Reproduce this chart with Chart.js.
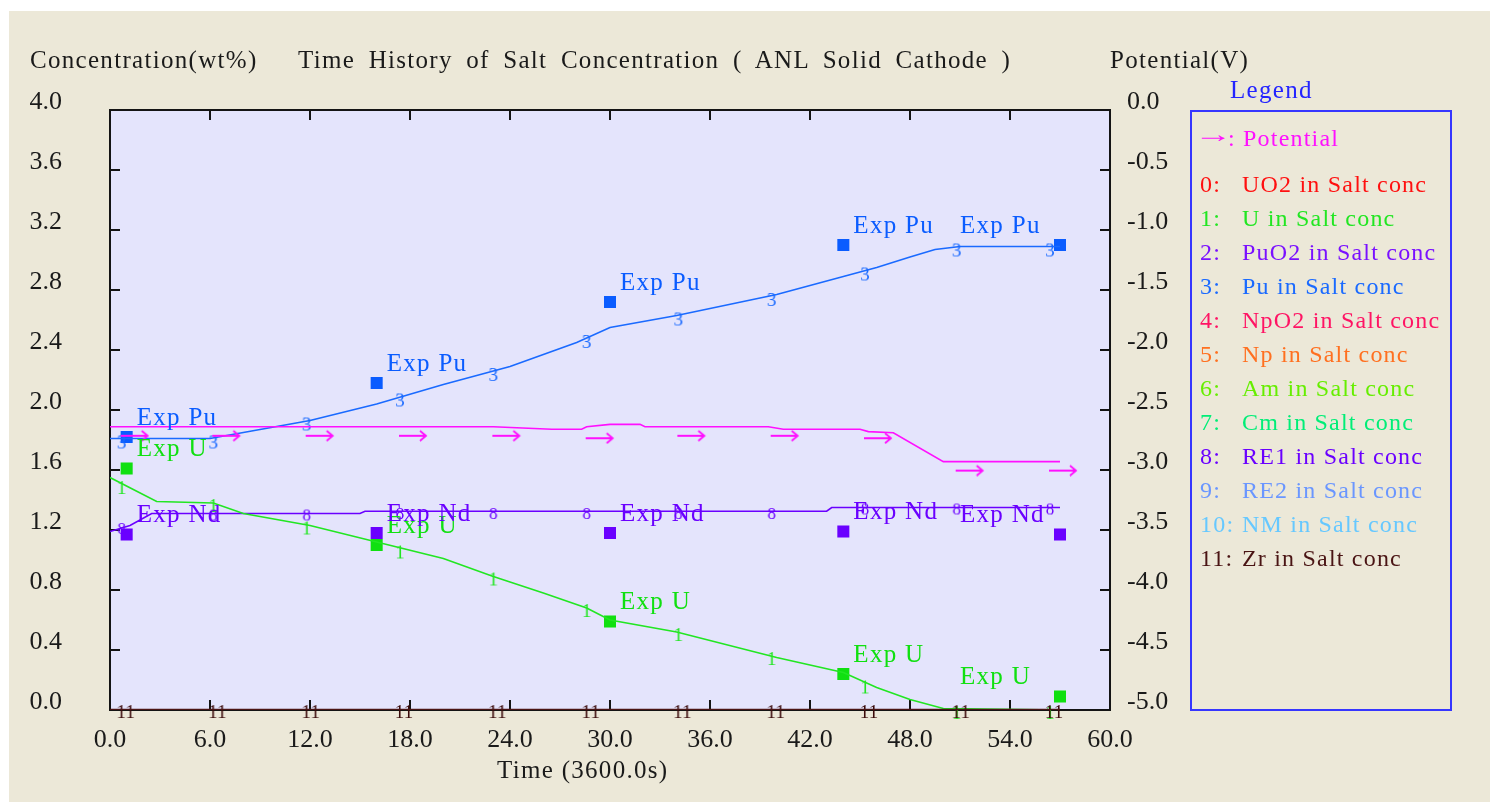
<!DOCTYPE html>
<html lang="en">
<head>
<meta charset="UTF-8">
<title>Time History of Salt Concentration</title>
<script src="https://cdn.jsdelivr.net/npm/chart.js"></script>
<style>
    body { margin: 0; background: #fff; width: 1490px; height: 802px; overflow: hidden; position: relative;
           font-family: "Liberation Serif", "Times New Roman", serif; }
    #panel { position: absolute; left: 9px; top: 11px; right: 0; bottom: 0; background: #ECE8D8; }
    #c { position: absolute; left: 0; top: 0; }
    .t { position: absolute; font-size: 25px; line-height: 28px; letter-spacing: 1.3px; color: #1a1a1a; white-space: nowrap; }
    #legend { position: absolute; left: 1190px; top: 110px; width: 258px; height: 597px; border: 2px solid #3636FF; }
    .lg { position: absolute; font-size: 24px; line-height: 28px; letter-spacing: 1.2px; white-space: nowrap; }
    .arr { transform: scaleX(1.6); transform-origin: left center; letter-spacing: 0; }
</style>
</head>
<body>
<div id="panel"></div>
<canvas id="c" width="1490" height="802"></canvas>

<div class="t" style="left:30px;top:46px">Concentration(wt%)</div>
<div class="t" style="left:298px;top:46px;word-spacing:6px">Time History of Salt Concentration ( ANL Solid Cathode )</div>
<div class="t" style="left:1110px;top:46px">Potential(V)</div>
<div class="t" style="left:1230px;top:76px;color:#2424FF">Legend</div>
<div class="t" style="left:497px;top:756px">Time (3600.0s)</div>
<div id="legend"></div>

<script>
// time axis (3600 s units)
const markT = [0.7, 6.2, 11.8, 17.4, 23.0, 28.6, 34.1, 39.7, 45.3, 50.8, 56.4];
const expT = [1, 16, 30, 44, 57];

// potential (V, right axis)
const potT = [0, 23, 26.5, 28.3, 28.6, 30, 31.8, 32.1, 39.5, 40.4, 45, 45.5, 47, 50, 57];
const potV = [-2.64, -2.64, -2.66, -2.66, -2.64, -2.62, -2.62, -2.64, -2.64, -2.66, -2.66, -2.68, -2.69, -2.93, -2.93];
const markPot = [-2.64, -2.64, -2.64, -2.64, -2.64, -2.66, -2.64, -2.64, -2.66, -2.93, -2.93];

// Pu in salt (wt%)
const puT = [0, 6, 8, 9, 12, 16, 20, 24, 28, 30, 34, 40, 44, 46, 48, 49.5, 51, 57];
const puV = [1.81, 1.81, 1.85, 1.87, 1.93, 2.04, 2.17, 2.29, 2.45, 2.55, 2.63, 2.77, 2.89, 2.95, 3.02, 3.07, 3.09, 3.09];
const markPu = [1.81, 1.81, 1.93, 2.09, 2.26, 2.48, 2.63, 2.76, 2.93, 3.09, 3.09];

// U in salt (wt%)
const uT = [0, 2.8, 6.2, 8, 12, 16, 20, 23, 26, 28.6, 30, 34, 40, 44, 46, 48, 50, 57];
const uV = [1.55, 1.39, 1.38, 1.31, 1.23, 1.12, 1.01, 0.89, 0.78, 0.68, 0.60, 0.52, 0.35, 0.25, 0.15, 0.07, 0.01, 0.0];
const markU = [1.50, 1.38, 1.23, 1.07, 0.89, 0.68, 0.52, 0.36, 0.17, 0.0, 0.0];

// RE1 (Nd) in salt (wt%)
const ndT = [0, 1.2, 2.5, 15, 15.3, 43, 43.3, 57];
const ndV = [1.19, 1.23, 1.31, 1.31, 1.325, 1.325, 1.35, 1.35];
const markNd = [1.22, 1.31, 1.31, 1.32, 1.32, 1.32, 1.32, 1.32, 1.35, 1.35, 1.35];

// Zr in salt (wt%)
const zrT = [0, 57];
const zrV = [0, 0];
const markZr = [0, 0, 0, 0, 0, 0, 0, 0, 0, 0, 0];

// experimental points
const expPu = [1.82, 2.18, 2.72, 3.10, 3.10];
const expU = [1.61, 1.10, 0.59, 0.24, 0.09];
const expNd = [1.17, 1.18, 1.18, 1.19, 1.17];

// legend
const legendNums = ['0:', '1:', '2:', '3:', '4:', '5:', '6:', '7:', '8:', '9:', '10:', '11:'];
const legendNames = ['UO2 in Salt conc', 'U in Salt conc', 'PuO2 in Salt conc', 'Pu in Salt conc',
    'NpO2 in Salt conc', 'Np in Salt conc', 'Am in Salt conc', 'Cm in Salt conc',
    'RE1 in Salt conc', 'RE2 in Salt conc', 'NM in Salt conc', 'Zr in Salt conc'];
const legendColors = ['#FF1010', '#22E622', '#7A10FF', '#1A6AFF', '#FF1464', '#FF7020',
    '#66EE00', '#00EE77', '#6A00FF', '#6A96FF', '#66C8FF', '#4A1414'];

const POT = '#FF10FF', PU = '#1A6AFF', U = '#22E622', ND = '#6A00FF', ZR = '#4A1414';
const FONT = '"Liberation Serif", "Times New Roman", serif';

// legend box
const lg = document.getElementById('legend');
lg.innerHTML = '<div class="lg arr" style="left:2px;top:8px;color:' + POT + '">&rarr;</div>' +
    '<div class="lg" style="left:36px;top:12px;color:' + POT + '">: Potential</div>';
legendNames.forEach((name, i) => {
    const top = 58 + i * 34;
    lg.innerHTML += '<div class="lg" style="left:8px;top:' + top + 'px;color:' + legendColors[i] + '">' + legendNums[i] + '</div>' +
        '<div class="lg" style="left:50px;top:' + top + 'px;color:' + legendColors[i] + '">' + name + '</div>';
});

// small text markers used as point styles
function glyph(text, color, size, dx, dy) {
    const c = document.createElement('canvas');
    c.width = 40; c.height = 40;
    const g = c.getContext('2d');
    g.font = size + 'px ' + FONT;
    g.fillStyle = color;
    g.textAlign = 'center';
    g.textBaseline = 'middle';
    g.fillText(text, 20 + dx, 20 + dy);
    return c;
}
function arrowGlyph(color) {
    const c = document.createElement('canvas');
    c.width = 60; c.height = 30;
    const g = c.getContext('2d');
    g.strokeStyle = color; g.lineWidth = 1.8;
    const y = 24;
    g.beginPath();
    g.moveTo(29, y); g.lineTo(56, y);
    g.moveTo(50, y - 5); g.lineTo(56, y); g.lineTo(50, y + 5);
    g.stroke();
    return c;
}

const xy = (ts, vs) => ts.map((t, i) => ({ x: t, y: vs[i] }));

function line(data, color, axis, width) {
    return { data, borderColor: color, borderWidth: width || 1.6, pointRadius: 0, tension: 0, yAxisID: axis, fill: false };
}
function marks(data, style, axis) {
    return { data, showLine: false, pointStyle: style, pointRadius: 10, yAxisID: axis, clip: false };
}
function exp(data, color, label) {
    return { data, showLine: false, pointStyle: 'rect', pointRadius: 8.5, backgroundColor: color,
             borderColor: color, borderWidth: 0, yAxisID: 'y', expLabel: label, labelColor: color, clip: false };
}

// plot background, frame and inward ticks
const framePlugin = {
    id: 'frame',
    beforeDraw(chart) {
        const { ctx, chartArea: a } = chart;
        ctx.save();
        ctx.fillStyle = '#E4E4FC';
        ctx.fillRect(a.left, a.top, a.right - a.left, a.bottom - a.top);
        ctx.restore();
    },
    beforeDatasetsDraw(chart) {
        const { ctx, chartArea: a, scales } = chart;
        ctx.save();
        ctx.strokeStyle = '#141414';
        ctx.lineWidth = 2;
        ctx.strokeRect(a.left, a.top, a.right - a.left, a.bottom - a.top);
        ctx.beginPath();
        scales.x.ticks.forEach(t => {
            const px = scales.x.getPixelForValue(t.value);
            ctx.moveTo(px, a.bottom); ctx.lineTo(px, a.bottom - 10);
            ctx.moveTo(px, a.top); ctx.lineTo(px, a.top + 10);
        });
        scales.y.ticks.forEach(t => {
            const py = scales.y.getPixelForValue(t.value);
            ctx.moveTo(a.left, py); ctx.lineTo(a.left + 10, py);
        });
        scales.y2.ticks.forEach(t => {
            const py = scales.y2.getPixelForValue(t.value);
            ctx.moveTo(a.right, py); ctx.lineTo(a.right - 10, py);
        });
        ctx.stroke();
        ctx.restore();
    },
    afterDatasetsDraw(chart) {
        const ctx = chart.ctx;
        ctx.save();
        ctx.font = '25px ' + FONT;
        ctx.letterSpacing = '1.3px';
        ctx.textBaseline = 'middle';
        ctx.textAlign = 'left';
        chart.data.datasets.forEach((ds, i) => {
            if (!ds.expLabel) return;
            ctx.fillStyle = ds.labelColor;
            chart.getDatasetMeta(i).data.forEach((pt, j) => {
                const last = j === ds.data.length - 1;
                ctx.fillText(ds.expLabel, last ? pt.x - 100 : pt.x + 10, pt.y - 19);
            });
        });
        ctx.restore();
    }
};

const tickFont = { family: FONT, size: 26 };

new Chart(document.getElementById('c'), {
    type: 'line',
    data: {
        datasets: [
            line(xy(potT, potV), POT, 'y2'),
            marks(xy(markT, markPot), arrowGlyph(POT), 'y2'),
            line(xy(zrT, zrV), ZR, 'y', 2.5),
            marks(xy(markT, markZr), glyph('11', '#3A0A0A', 19, 4, 3), 'y'),
            line(xy(uT, uV), U, 'y'),
            marks(xy(markT, markU), glyph('1', U, 19, 0, 4), 'y'),
            line(xy(ndT, ndV), ND, 'y'),
            marks(xy(markT, markNd), glyph('8', ND, 17, 0, 3), 'y'),
            line(xy(puT, puV), PU, 'y'),
            marks(xy(markT, markPu), glyph('3', PU, 19, 0, 5), 'y'),
            exp(xy(expT, expPu), '#0A5CFF', 'Exp Pu'),
            exp(xy(expT, expU), '#10E010', 'Exp U'),
            exp(xy(expT, expNd), '#6A00FF', 'Exp Nd')
        ]
    },
    options: {
        responsive: false,
        animation: false,
        events: [],
        layout: { padding: { left: 10, top: 110, right: 300, bottom: 32 } },
        plugins: { legend: { display: false }, tooltip: { enabled: false } },
        scales: {
            x: {
                type: 'linear', min: 0, max: 60,
                grid: { display: false }, border: { display: false },
                ticks: { stepSize: 6, font: tickFont, color: '#1a1a1a', padding: 7, maxRotation: 0,
                         callback: v => v.toFixed(1) },
                afterFit: s => { s.height = 60; }
            },
            y: {
                position: 'left', min: 0, max: 4,
                grid: { display: false }, border: { display: false },
                ticks: { stepSize: 0.4, font: tickFont, color: '#1a1a1a', padding: 40, labelOffset: -8,
                         callback: v => v.toFixed(1) },
                afterFit: s => { s.width = 100; }
            },
            y2: {
                position: 'right', min: -5, max: 0,
                grid: { display: false }, border: { display: false },
                ticks: { stepSize: 0.5, font: tickFont, color: '#1a1a1a', padding: 9, labelOffset: -8,
                         callback: v => v.toFixed(1) },
                afterFit: s => { s.width = 80; }
            }
        }
    },
    plugins: [framePlugin]
});
</script>
</body>
</html>
